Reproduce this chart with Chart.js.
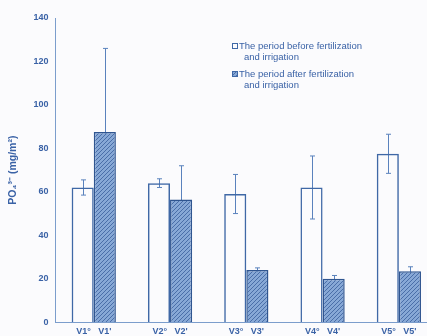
<!DOCTYPE html>
<html>
<head>
<meta charset="utf-8">
<script src="https://cdn.jsdelivr.net/npm/chart.js@4.4.1/dist/chart.umd.min.js"></script>
<style>
  html, body { margin: 0; padding: 0; background: #fbfbfd; overflow: hidden; }
  #wrap { width: 445px; height: 341px; position: relative; }
</style>
</head>
<body>
<div id="wrap"><canvas id="c" width="445" height="341"></canvas></div>
<script>
// Sites and labels for each pair of bars
const sites = ['V1', 'V2', 'V3', 'V4', 'V5'];
const beforeLabels = ['V1°', 'V2°', 'V3°', 'V4°', 'V5°'];
const afterLabels = ["V1'", "V2'", "V3'", "V4'", "V5'"];

// PO4 3- (mg/m2), mean values and standard deviations
const beforeValues = [62, 64, 59, 62, 77.5];
const beforeErrors = [3.5, 2, 9, 14.5, 9];
const afterValues = [87.5, 56.5, 24, 20, 23.5];
const afterErrors = [38.5, 15.5, 1, 1.5, 2];

const yTicks = [0, 20, 40, 60, 80, 100, 120, 140];

const legendTexts = [
  ['The period before fertilization', 'and irrigation'],
  ['The period after fertilization', 'and irrigation']
];

const ink = '#3a62a6';
const outline = '#3f68a6';
const fontFamily = '"Liberation Sans", Arial, sans-serif';

// diagonal hatch fill for the "after" bars
function makeHatch() {
  const p = document.createElement('canvas');
  p.width = 4; p.height = 4;
  const g = p.getContext('2d');
  g.fillStyle = '#87a8d6';
  g.fillRect(0, 0, 4, 4);
  g.strokeStyle = '#4a6ea8';
  g.lineWidth = 1;
  g.beginPath();
  g.moveTo(0, 4); g.lineTo(4, 0);
  g.moveTo(-1, 1); g.lineTo(1, -1);
  g.moveTo(3, 5); g.lineTo(5, 3);
  g.stroke();
  return g.createPattern(p, 'repeat');
}
const hatch = makeHatch();

// error bars drawn under the bars so filled bars hide the lower whisker
const errorBars = {
  id: 'errorBars',
  beforeDatasetsDraw(chart) {
    const ctx = chart.ctx;
    const y = chart.scales.y;
    const errs = [beforeErrors, afterErrors];
    ctx.save();
    ctx.strokeStyle = '#5a82bd';
    ctx.lineWidth = 1;
    chart.data.datasets.forEach((ds, di) => {
      const meta = chart.getDatasetMeta(di);
      meta.data.forEach((bar, i) => {
        const v = ds.data[i], e = errs[di][i];
        const x = Math.round(bar.x) + 0.5;
        const yt = y.getPixelForValue(v + e);
        const yb = y.getPixelForValue(v - e);
        ctx.beginPath();
        ctx.moveTo(x, yt); ctx.lineTo(x, yb);
        ctx.moveTo(x - 2.5, yt); ctx.lineTo(x + 2.5, yt);
        ctx.moveTo(x - 2.5, yb); ctx.lineTo(x + 2.5, yb);
        ctx.stroke();
      });
    });
    ctx.restore();
  }
};

// two-line legend entries at the upper right
const boxLegend = {
  id: 'boxLegend',
  afterDraw(chart) {
    const ctx = chart.ctx;
    ctx.save();
    ctx.font = '9.5px ' + fontFamily;
    ctx.textBaseline = 'middle';
    const rows = [46, 74];
    rows.forEach((ry, k) => {
      ctx.fillStyle = k === 0 ? '#fbfbfd' : hatch;
      ctx.fillRect(232, ry - 3, 6, 6);
      ctx.strokeStyle = outline;
      ctx.lineWidth = 1;
      ctx.strokeRect(232.5, ry - 2.5, 5, 5);
      ctx.fillStyle = ink;
      ctx.fillText(legendTexts[k][0], 239, ry);
      ctx.fillText(legendTexts[k][1], 244, ry + 11);
    });
    ctx.restore();
  }
};

new Chart(document.getElementById('c'), {
  type: 'bar',
  data: {
    labels: sites,
    datasets: [
      {
        label: legendTexts[0].join(' '),
        data: beforeValues,
        backgroundColor: 'rgba(0,0,0,0)',
        borderColor: outline,
        borderWidth: 1.5,
        borderSkipped: 'bottom'
      },
      {
        label: legendTexts[1].join(' '),
        data: afterValues,
        backgroundColor: hatch,
        borderColor: '#2f5590',
        borderWidth: 1.5,
        borderSkipped: 'bottom'
      }
    ]
  },
  options: {
    responsive: false,
    animation: false,
    layout: { padding: { left: 7, right: 8, top: 18, bottom: 0 } },
    datasets: { bar: { barPercentage: 1, categoryPercentage: 0.58 } },
    plugins: { legend: { display: false }, tooltip: { enabled: false } },
    scales: {
      x: {
        grid: { display: false, drawTicks: false },
        border: { color: '#7b9dcc', width: 1, dash: [2, 1] },
        ticks: {
          color: ink,
          font: { family: fontFamily, size: 9, weight: 'bold' },
          padding: 4,
          callback: (v, i) => beforeLabels[i] + '   ' + afterLabels[i]
        }
      },
      y: {
        min: 0, max: 140,
        afterBuildTicks: s => { s.ticks = yTicks.map(v => ({ value: v })); },
        grid: { display: false, drawTicks: true, tickLength: 3, color: '#7b9dcc' },
        border: { color: '#7b9dcc', width: 1 },
        ticks: {
          color: ink,
          font: { family: fontFamily, size: 9, weight: 'bold' },
          padding: 4
        },
        title: {
          display: true,
          text: 'PO₄³⁻ (mg/m²)',
          color: ink,
          font: { family: fontFamily, size: 10.5, weight: 'bold' },
          padding: { top: 0, bottom: 10 }
        }
      }
    }
  },
  plugins: [errorBars, boxLegend]
});
</script>
</body>
</html>
